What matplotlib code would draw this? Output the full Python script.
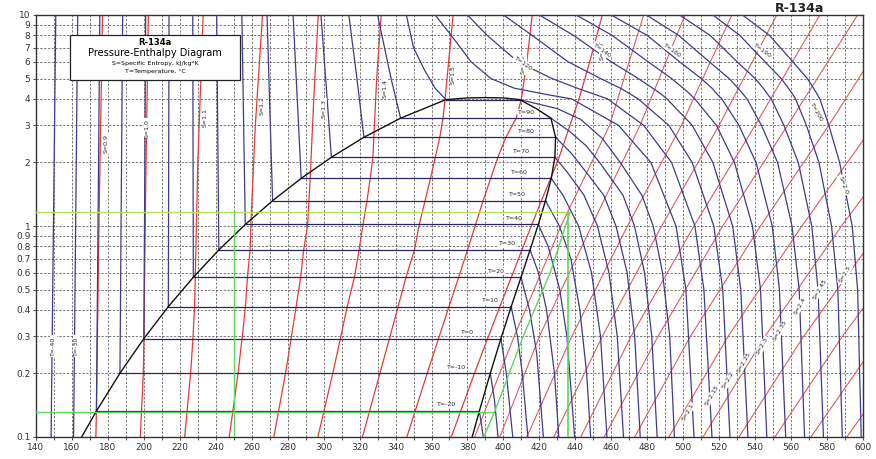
import matplotlib
matplotlib.use('Agg')
import matplotlib.pyplot as plt
from matplotlib.patches import Rectangle
from matplotlib.ticker import FixedLocator, NullLocator

# ---------------- data (h in kJ/kg, P in MPa) ----------------
sat_T = [-20, -10, 0, 10, 20, 30, 40, 50, 60, 70, 80, 90, 100]
sat_P = [0.1327, 0.2006, 0.2928, 0.4146, 0.5717, 0.7702, 1.0166, 1.3179, 1.6818, 2.1168, 2.6332, 3.2442, 3.9724]
sat_hf = [173.6, 186.7, 200.0, 213.6, 227.5, 241.7, 256.4, 271.6, 287.5, 304.3, 322.4, 342.8, 368.0]
sat_hg = [386.6, 392.7, 398.6, 404.3, 409.8, 414.8, 419.4, 423.4, 426.6, 428.6, 429.0, 426.4, 409.0]

dome_h = [165.4, 173.6, 186.7, 200.0, 213.6, 227.5, 241.7, 256.4, 271.6, 287.5, 304.3, 322.4, 342.8, 355.5,
          368.0, 380.0, 389.6, 400.0, 409.0, 418.5, 426.4, 429.0, 428.6, 426.6, 423.4, 419.4, 414.8, 409.8,
          404.3, 398.6, 392.7, 386.6, 382.6]
dome_p = [0.1, 0.1327, 0.2006, 0.2928, 0.4146, 0.5717, 0.7702, 1.0166, 1.3179, 1.6818, 2.1168, 2.6332, 3.2442,
          3.5912, 3.9724, 4.045, 4.059, 4.045, 3.9724, 3.5912, 3.2442, 2.6332, 2.1168, 1.6818, 1.3179, 1.0166,
          0.7702, 0.5717, 0.4146, 0.2928, 0.2006, 0.1327, 0.1]

# liquid-side isotherms
liq_T = [-40, -30, -20, -10, 0, 10, 20, 30, 40, 50, 60, 70, 80, 90, 100]
liq_h = [[148.4, 151.0], [160.9, 163.2], [173.6, 175.5], [186.7, 188.2], [200.0, 201.0], [213.6, 214.0],
         [227.5, 227.2], [241.7, 240.5], [256.4, 254.5], [271.6, 268.5], [287.5, 283.0],
         [304.3, 301.5, 298.5], [322.4, 318.5, 314.0], [342.8, 337.5, 330.0],
         [368.0, 362.0, 356.0, 350.0, 346.0]]
liq_p = [[0.1, 10], [0.1, 10], [0.1327, 10], [0.2006, 10], [0.2928, 10], [0.4146, 10], [0.5717, 10],
         [0.7702, 10], [1.0166, 10], [1.3179, 10], [1.6818, 10], [2.1168, 4.5, 10], [2.6332, 5, 10],
         [3.2442, 5, 10], [3.9724, 4.5, 5.5, 7, 10]]

# vapour-side isotherms (subcritical)
vap_T = [-20, -10, 0, 10, 20, 30, 40, 50, 60, 70, 80, 90, 100]
vap_h = [[386.6, 388.8],
         [392.7, 395.0, 397.0],
         [398.6, 401.6, 405.2],
         [404.3, 407.8, 410.5, 413.6],
         [409.8, 414.5, 418.5, 422.2],
         [414.8, 419.5, 424.0, 428.4, 430.8],
         [419.4, 424.9, 431.3, 435.3, 439.6],
         [423.4, 431.1, 437.5, 442.5, 446.3, 448.5],
         [426.6, 433.1, 441.8, 449.0, 454.0, 457.6],
         [428.6, 435.5, 444.8, 452.3, 458.7, 463.3, 466.8],
         [429.0, 438.0, 446.0, 455.8, 462.6, 468.8, 473.0, 476.1],
         [426.4, 437.0, 446.0, 453.5, 466.5, 472.9, 478.5, 482.5, 485.5],
         [409.0, 430.0, 443.0, 455.0, 465.0, 477.0, 483.3, 488.5, 492.5, 495.1]]
vap_p = [[0.1327, 0.1],
         [0.2006, 0.15, 0.1],
         [0.2928, 0.2, 0.1],
         [0.4146, 0.3, 0.2, 0.1],
         [0.5717, 0.4, 0.25, 0.1],
         [0.7702, 0.6, 0.4, 0.2, 0.1],
         [1.0166, 0.8, 0.5, 0.3, 0.1],
         [1.3179, 1.0, 0.7, 0.4, 0.2, 0.1],
         [1.6818, 1.4, 1.0, 0.6, 0.3, 0.1],
         [2.1168, 1.8, 1.4, 1.0, 0.6, 0.3, 0.1],
         [2.6332, 2.2, 1.8, 1.4, 1.0, 0.6, 0.3, 0.1],
         [3.2442, 2.8, 2.4, 2.0, 1.4, 1.0, 0.6, 0.3, 0.1],
         [3.9724, 3.6, 3.2, 2.6, 2.0, 1.4, 1.0, 0.6, 0.3, 0.1]]

# supercritical isotherms
sup_T = [110, 120, 130, 140, 150, 160, 170, 180, 190, 200]
sup_p = [10, 8, 6, 5, 4.5, 4.2, 4, 3, 2, 1, 0.5, 0.1]
sup_h = [[362, 371, 382, 393, 406, 424, 438, 464, 482, 496, 501.5, 506],
         [380, 391, 408, 427, 441, 451, 458, 478, 493.5, 506.5, 511.5, 516],
         [400, 416, 436, 454, 465, 471, 475, 492, 505, 517, 522, 526],
         [420, 439, 460, 475, 483, 488, 491, 505, 516.5, 527.5, 532, 536],
         [440.5, 460.5, 480.5, 493.5, 500, 504, 506.5, 518.5, 528.5, 538.5, 543, 546.5],
         [460, 480, 498, 510, 516, 519, 521.5, 531, 540.5, 549.5, 553.5, 557],
         [479.5, 497.5, 514.5, 525.5, 530.5, 533.5, 535.5, 543.5, 552.5, 560.5, 564.5, 567.5],
         [498, 515, 530, 540, 544.5, 547, 549, 556, 564, 571.5, 575, 578],
         [516.5, 531.5, 545.5, 554.5, 558.5, 561, 562.5, 568.5, 575.5, 582.5, 586, 588.5],
         [533, 548, 561, 569, 572.5, 574.6, 576, 581, 587, 594, 597, 599]]

# isentropes through liquid / two-phase region
wet_s = [0.9, 1.0, 1.1, 1.2, 1.3, 1.4, 1.5, 1.6, 1.7]
wet_h = [[173.3, 173.6, 175.0, 177.0],
         [198.0, 199.7, 200.0, 201.0, 202.5],
         [222.7, 226.0, 227.3, 228.2, 228.6, 230.0, 233.0],
         [247.5, 252.4, 254.6, 256.5, 257.6, 259.1, 259.6, 262.0, 266.0],
         [272.3, 278.8, 281.9, 284.7, 287.2, 288.9, 291.1, 291.8, 292.5, 294.5, 297.0],
         [296.8, 305.1, 309.3, 313.1, 317.1, 319.7, 321.9, 324.1, 325.9, 327.4, 327.9, 329.5, 332.0],
         [321.6, 331.3, 336.6, 341.4, 345.8, 350.5, 353.2, 356.4, 359.4, 362.1, 364.6, 366.4, 367.5, 369.5, 372.0],
         [346.3, 357.6, 363.9, 369.7, 375.1, 380.0, 384.5, 388.7, 392.9, 396.9, 401.4, 407.1, 410.0, 413.0, 416.0],
         [371.0, 383.9, 391.2, 398.0, 404.4, 410.3, 415.8, 421.1, 426.3, 431.0, 437.0, 442.0, 448.0, 455.0]]
wet_p = [[0.1, 0.1327, 1, 10],
         [0.1, 0.2006, 0.2928, 1.5, 10],
         [0.1, 0.2006, 0.2928, 0.4146, 0.5717, 2, 10],
         [0.1, 0.2006, 0.2928, 0.4146, 0.5717, 0.7702, 1.06, 3, 10],
         [0.1, 0.2006, 0.2928, 0.4146, 0.5717, 0.7702, 1.0166, 1.3179, 1.6818, 4, 10],
         [0.1, 0.2006, 0.2928, 0.4146, 0.5717, 0.7702, 1.0166, 1.3179, 1.6818, 2.1168, 2.6332, 5, 10],
         [0.1, 0.2006, 0.2928, 0.4146, 0.5717, 0.7702, 1.0166, 1.3179, 1.6818, 2.1168, 2.6332, 3.2442, 3.9724, 6, 10],
         [0.1, 0.2006, 0.2928, 0.4146, 0.5717, 0.7702, 1.0166, 1.3179, 1.6818, 2.1168, 2.6332, 3.2442, 4, 6, 10],
         [0.1, 0.2006, 0.2928, 0.4146, 0.5717, 0.7702, 1.0166, 1.3179, 1.6818, 2.1168, 3, 4, 6, 10]]

# isentropes in the superheated region
sh_s = [1.75, 1.8, 1.85, 1.9, 1.95, 2.0, 2.05, 2.1, 2.15, 2.2, 2.25, 2.3, 2.35]
sh_p = [0.1, 0.3, 1, 3, 10]
sh_h = [[384, 406, 432, 459, 478],
        [398, 420, 449, 476, 501],
        [413, 438, 469, 499, 527],
        [428, 455, 488, 520, 552],
        [443, 471, 506, 540, 576],
        [456, 486, 522, 558, 597],
        [473, 504, 543, 581, 620],
        [492, 525, 566, 606, 646],
        [511, 545.5, 588, 630, 672],
        [531, 567, 611, 655, 700],
        [551, 588.5, 634, 680, 726],
        [571, 610, 657, 705, 752],
        [591, 631, 680, 730, 780]]

# refrigeration cycle (green)
cyc_p_high = 1.16
cyc_p_low = 0.131
cyc_h_high_end = 436
cyc_h_low_end = 394
cyc_h_valve = 250
cyc_comp_h = [389, 395, 411, 426, 437]
cyc_comp_p = [0.1, 0.131, 0.3, 0.6, 1.16]

# labels
dome_lab_T = [-20, -10, 0, 10, 20, 30, 40, 50, 60, 70, 80, 90]
dome_lab_h = [368.6, 374.0, 380.0, 392.5, 396.4, 402.0, 406.4, 408.0, 409.0, 410.0, 413.0, 413.0]
s_lab_text = ['S=0.9', 'S=1.0', 'S=1.1', 'S=1.2', 'S=1.3', 'S=1.4', 'S=1.5', 'S=1.6', 'S=1.7']
s_lab_h = [179, 202, 234, 266, 300, 334, 372, 411, 455]
s_lab_p = [2.47, 2.91, 3.28, 3.74, 3.6, 4.5, 5.2, 5.8, 6.8]
t_lab_text = ['T=-40', 'T=-30', 'T=120', 'T=140', 'T=160', 'T=190', 'T=200', 'S=2.0']
t_lab_h = [149.5, 162.5, 411, 455, 494, 544, 574, 589]
t_lab_p = [0.27, 0.27, 5.9, 6.8, 6.8, 6.8, 3.47, 1.56]
t_lab_rot = [90, 90, -35, -35, -35, -35, -60, -70]
sr_lab_text = ['S=2.1', 'S=2.15', 'S=2.2', 'S=2.25', 'S=2.3', 'S=2.35', 'S=2.4', 'S=2.45', 'S=2.5']
sr_lab_h = [502.6, 516, 525, 534, 544, 554, 565, 576, 590]
sr_lab_p = [0.131, 0.158, 0.186, 0.227, 0.27, 0.32, 0.42, 0.50, 0.59]

y_ticks = [0.1, 0.2, 0.3, 0.4, 0.5, 0.6, 0.7, 0.8, 0.9, 1, 2, 3, 4, 5, 6, 7, 8, 9, 10]
y_labels = ['0.1', '0.2', '0.3', '0.4', '0.5', '0.6', '0.7', '0.8', '0.9', '1', '2', '3', '4', '5', '6', '7', '8', '9', '10']
x_ticks = list(range(140, 601, 20))
x_minor = list(range(140, 601, 10))

# ---------------- drawing ----------------
ISO = '#3c3c8c'
ISEN = '#e23b3b'
ISEN2 = '#e25a5a'
GRN = '#5fd65f'

fig = plt.figure(figsize=(8.76, 4.59), dpi=100)
ax = fig.add_axes([36 / 876, 22 / 459, 827 / 876, 422 / 459])
ax.set_yscale('log')
ax.set_xlim(140, 600)
ax.set_ylim(0.1, 10)

ax.yaxis.set_major_locator(FixedLocator(y_ticks))
ax.yaxis.set_minor_locator(NullLocator())
ax.set_yticklabels(y_labels)
ax.xaxis.set_major_locator(FixedLocator(x_ticks))
ax.xaxis.set_minor_locator(FixedLocator(x_minor))
ax.tick_params(axis='both', which='both', labelsize=6.5, length=2, width=0.6, colors='#333333', pad=2)
ax.grid(True, which='both', color='#555555', linestyle=(0, (3, 2)), linewidth=0.55, zorder=0)
ax.set_axisbelow(True)
for sp in ax.spines.values():
    sp.set_linewidth(1.0)
    sp.set_color('#333333')

# isentropes
for h, p in zip(wet_h, wet_p):
    ax.plot(h, p, color=ISEN, lw=0.9, zorder=2)
for h in sh_h:
    ax.plot(h, sh_p, color=ISEN2, lw=0.8, zorder=2)

# isotherms
for h, p in zip(liq_h, liq_p):
    ax.plot(h, p, color=ISO, lw=0.9, zorder=3)
for h, p in zip(vap_h, vap_p):
    ax.plot(h, p, color=ISO, lw=0.9, zorder=3)
for h in sup_h:
    ax.plot(h, sup_p, color=ISO, lw=0.9, zorder=3)
for p, hf, hg in zip(sat_P, sat_hf, sat_hg):
    ax.plot([hf, hg], [p, p], color='#262660', lw=0.9, zorder=3)

# saturation dome
ax.plot(dome_h, dome_p, color='#111111', lw=1.0, zorder=4)

# refrigeration cycle
ax.plot([140, cyc_h_high_end], [cyc_p_high, cyc_p_high], color='#b5e05a', lw=1.0, zorder=5)
ax.plot([140, cyc_h_low_end], [cyc_p_low, cyc_p_low], color=GRN, lw=1.0, zorder=5)
ax.plot([cyc_h_valve, cyc_h_valve], [0.1, cyc_p_high], color=GRN, lw=1.0, zorder=5)
ax.plot([cyc_h_high_end, cyc_h_high_end], [0.1, cyc_p_high], color=GRN, lw=1.2, zorder=5)
ax.plot(cyc_comp_h, cyc_comp_p, color=GRN, lw=1.0, zorder=5)

# labels
box = dict(boxstyle='square,pad=0.15', fc='white', ec='none')
for t, h, p in zip(dome_lab_T, dome_lab_h, sat_P):
    ax.text(h, p * 1.04, 'T=%d' % t, fontsize=4.5, ha='center', va='bottom', color='#222222',
            bbox=box, zorder=6)
for t, h, p in zip(s_lab_text, s_lab_h, s_lab_p):
    ax.text(h, p, t, fontsize=4.5, rotation=90, ha='center', va='center', color='#222222',
            bbox=box, zorder=6)
for t, h, p, r in zip(t_lab_text, t_lab_h, t_lab_p, t_lab_rot):
    ax.text(h, p, t, fontsize=4.5, rotation=r, ha='center', va='center', color='#222222',
            bbox=box, zorder=6)
for t, h, p in zip(sr_lab_text, sr_lab_h, sr_lab_p):
    ax.text(h, p, t, fontsize=4.5, rotation=60, ha='center', va='center', color='#222222',
            bbox=box, zorder=6)

# legend box
ax.add_patch(Rectangle((0.041, 0.846), 0.206, 0.107, transform=ax.transAxes, fc='white',
                       ec='#222222', lw=0.9, zorder=7))
cx = 0.144
ax.text(cx, 0.936, 'R-134a', transform=ax.transAxes, fontsize=6, fontweight='bold',
        ha='center', va='center', zorder=8)
ax.text(cx, 0.910, 'Pressure-Enthalpy Diagram', transform=ax.transAxes, fontsize=7,
        ha='center', va='center', zorder=8)
ax.text(cx, 0.886, 'S=Specific Entropy, kJ/kg*K', transform=ax.transAxes, fontsize=4.5,
        ha='center', va='center', zorder=8)
ax.text(cx, 0.865, 'T=Temperature, \u00b0C', transform=ax.transAxes, fontsize=4.5,
        ha='center', va='center', zorder=8)

fig.text(800 / 876, 1 - 8 / 459, 'R-134a', fontsize=9, fontweight='bold', ha='center',
         va='center', color='#222222')

fig.savefig('out.png', dpi=100)
